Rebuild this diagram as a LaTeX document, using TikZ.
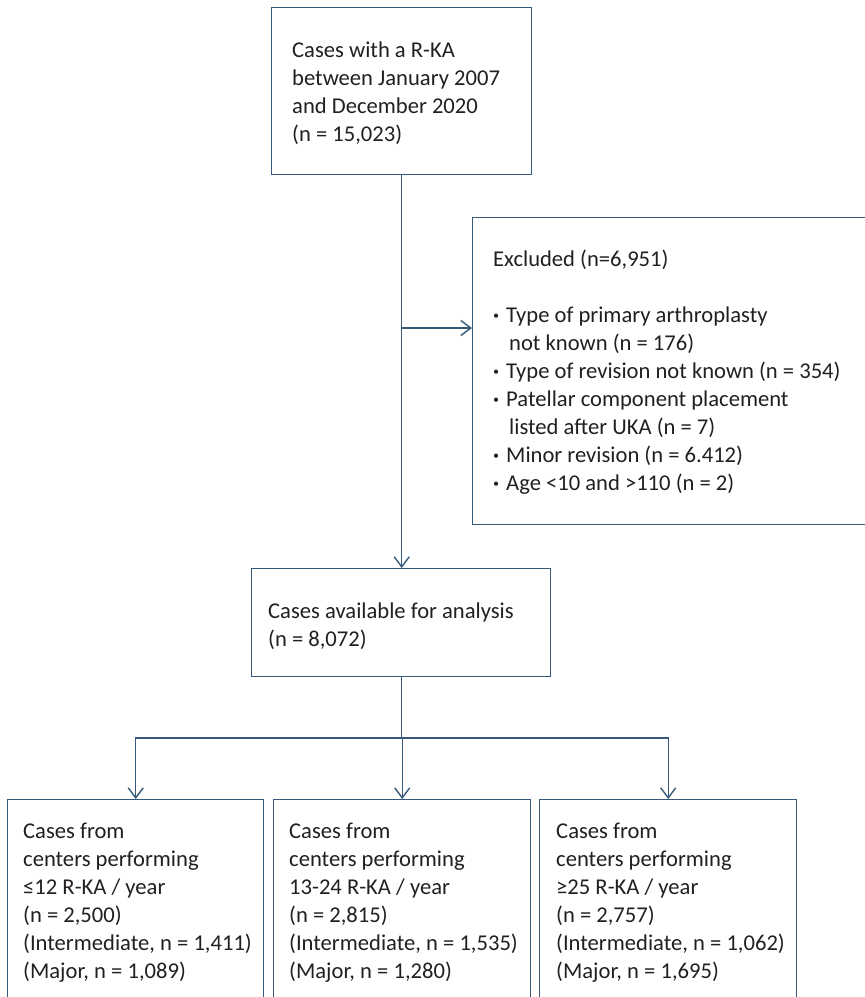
\documentclass[tikz,border=0pt]{standalone}
\usepackage{fontspec}
\setmainfont{Carlito}
\usetikzlibrary{arrows.meta}
\definecolor{linec}{HTML}{34597A}
\definecolor{txtc}{HTML}{231F20}
\tikzset{
  box/.style={draw=linec, line width=1.4pt, inner sep=0pt, anchor=north west, fill=none},
  txt/.style={anchor=base west, inner sep=0pt, text=txtc, font=\fontsize{22.6}{28}\selectfont},
  conn/.style={draw=linec, line width=1.4pt},
  arr/.style={conn, -{Straight Barb[length=10pt,width=15pt,line width=1.4pt]}}
}
\newcommand{\lines}[2]{\parbox[t]{#1}{\raggedright #2}}
\newcommand{\bul}{\makebox[13pt][l]{\textbf{·}}}
\newcommand{\bulind}{\hspace{16pt}}
\begin{document}
\begin{tikzpicture}[x=1pt,y=-1pt]
\useasboundingbox (0,0) rectangle (865,997);
\clip (0,0) rectangle (865,997);
% boxes
\node[box, minimum width=260pt, minimum height=167pt] (top) at (271,7) {};
\node[box, minimum width=420pt, minimum height=307pt] (excl) at (472,217) {};
\node[box, minimum width=299pt, minimum height=108pt] (mid) at (251,568) {};
\node[box, minimum width=256pt, minimum height=230pt] (b1) at (7,799) {};
\node[box, minimum width=257pt, minimum height=230pt] (b2) at (273,799) {};
\node[box, minimum width=257pt, minimum height=230pt] (b3) at (539,799) {};
% texts
\node[txt] (ttop) at (292,57) {\lines{230pt}{Cases with a R-KA\\between January 2007\\and December 2020\\(n = 15,023)}};
\node[txt] (texcl) at (493,266) {Excluded (n=6,951)};
\node[txt] (tbul) at (493,322) {\lines{370pt}{%
\bul Type of primary arthroplasty\\
\bulind not known (n = 176)\\
\bul Type of revision not known (n = 354)\\
\bul Patellar component placement\\
\bulind listed after UKA (n = 7)\\
\bul Minor revision (n = 6.412)\\
\bul Age <10 and >110 (n = 2)}};
\node[txt] (tmid) at (268,618) {\lines{280pt}{Cases available for analysis\\(n = 8,072)}};
\node[txt] (tb1) at (23,838) {\lines{240pt}{Cases from\\centers performing\\≤12 R-KA / year\\(n = 2,500)\\(Intermediate, n = 1,411)\\(Major, n = 1,089)}};
\node[txt] (tb2) at (289,838) {\lines{240pt}{Cases from\\centers performing\\13-24 R-KA / year\\(n = 2,815)\\(Intermediate, n = 1,535)\\(Major, n = 1,280)}};
\node[txt] (tb3) at (556,838) {\lines{240pt}{Cases from\\centers performing\\≥25 R-KA / year\\(n = 2,757)\\(Intermediate, n = 1,062)\\(Major, n = 1,695)}};
% connectors
\coordinate (j1) at (top.south |- 0,328);
\coordinate (split) at (mid.south |- 0,738);
\draw[arr] (top.south) -- (top.south |- mid.north);
\draw[arr] (j1) -- (j1 -| excl.west);
\draw[conn] (mid.south) -- (split);
\draw[arr] (split) -| (b1.north);
\draw[arr] (split) -- (split -| b2.north) -- (b2.north);
\draw[arr] (split) -| (b3.north);
\end{tikzpicture}
\end{document}
